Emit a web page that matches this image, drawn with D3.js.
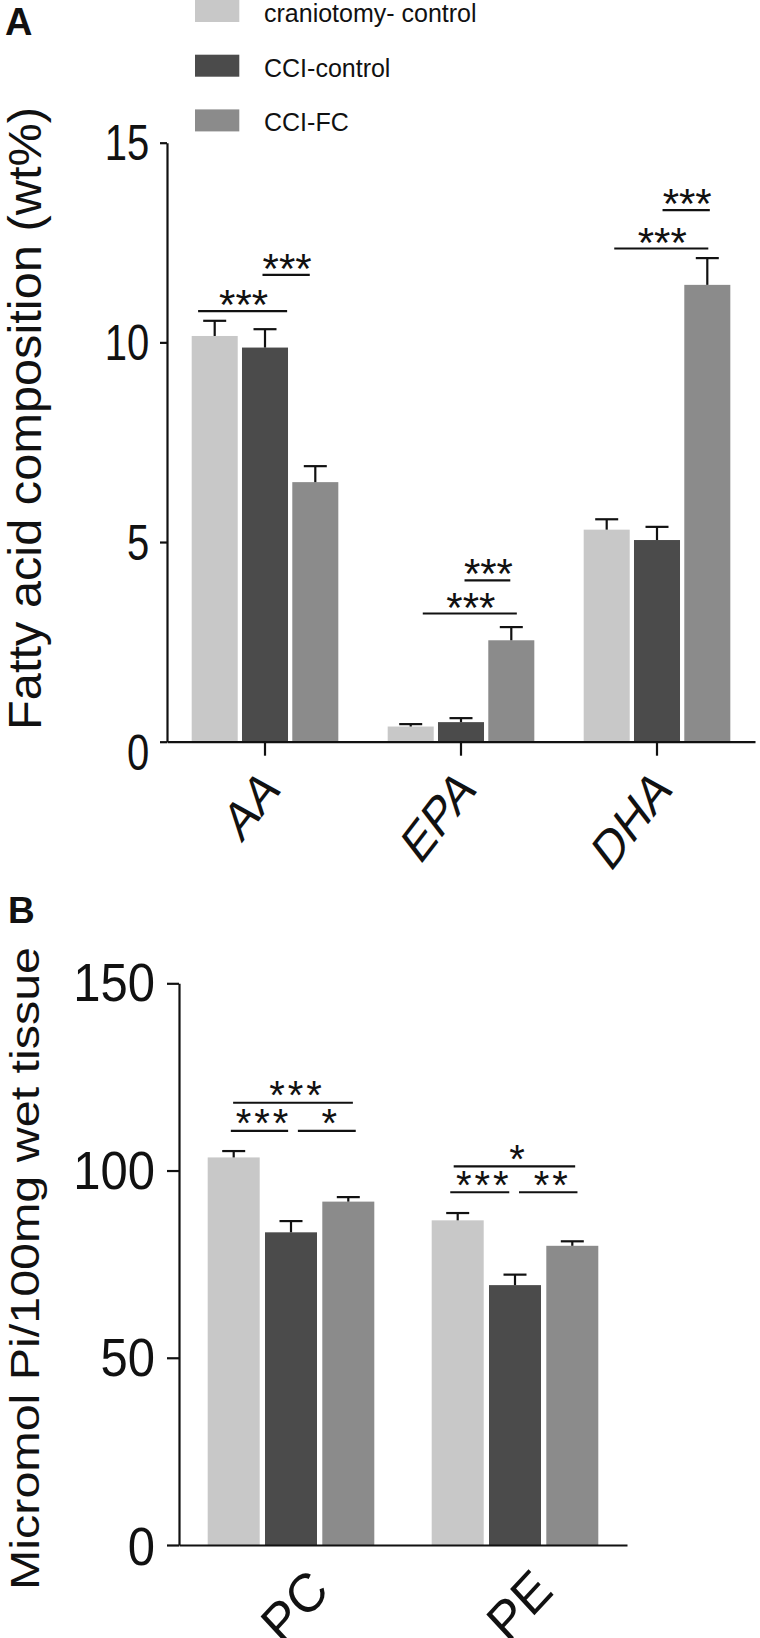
<!DOCTYPE html>
<html><head><meta charset="utf-8">
<script src="https://cdn.jsdelivr.net/npm/d3@7/dist/d3.min.js"></script>
<style>html,body{margin:0;padding:0;background:#fff;} svg{display:block;font-family:"Liberation Sans",Arial,Helvetica,sans-serif;}</style>
</head><body>
<svg id="chart" width="760" height="1638"></svg>
<script>
// ---------- data ----------
const seriesNames  = ["craniotomy- control", "CCI-control", "CCI-FC"];
const seriesColors = ["#c8c8c8", "#4b4b4b", "#8b8b8b"];

// Panel A
const categoriesA     = ["AA", "EPA", "DHA"];
const craniotomyA     = [10.16, 0.38, 5.31];
const craniotomyErrA  = [0.38, 0.06, 0.26];
const cciControlA     = [9.87, 0.49, 5.05];
const cciControlErrA  = [0.46, 0.10, 0.33];
const cciFcA          = [6.50, 2.54, 11.44];
const cciFcErrA       = [0.40, 0.33, 0.67];
const yTicksA         = [0, 5, 10, 15];
const yTickLabelsA    = ["0", "5", "10", "15"];
const yTitleA         = "Fatty acid composition (wt%)";
// significance brackets: group, from / to (in bar slots from group centre), level (data value), label
const sigA = [
  {group: "AA",  from: -1.33, to: 0.44, level: 10.78, label: "***"},
  {group: "AA",  from: -0.05, to: 0.89, level: 11.69, label: "***"},
  {group: "EPA", from: -0.76, to: 1.11, level: 3.21,  label: "***"},
  {group: "EPA", from: 0.07,  to: 0.98, level: 4.04,  label: "***"},
  {group: "DHA", from: -0.85, to: 1.02, level: 12.35, label: "***"},
  {group: "DHA", from: 0.11,  to: 1.05, level: 13.31, label: "***"}
];

// Panel B
const categoriesB     = ["PC", "PE"];
const craniotomyB     = [103.5, 86.7];
const craniotomyErrB  = [1.7, 1.95];
const cciControlB     = [83.5, 69.4];
const cciControlErrB  = [3.0, 2.8];
const cciFcB          = [91.7, 79.9];
const cciFcErrB       = [1.2, 1.2];
const yTicksB         = [0, 50, 100, 150];
const yTickLabelsB    = ["0", "50", "100", "150"];
const yTitleB         = "Micromol Pi/100mg wet tissue";
const sigB = [
  {group: "PC", from: -1.05, to: -0.05, level: 110.6, label: "***"},
  {group: "PC", from: 0.12,  to: 1.13,  level: 110.6, label: "*"},
  {group: "PC", from: -1.01, to: 1.08,  level: 118.1, label: "***"},
  {group: "PE", from: -1.13, to: -0.10, level: 94.2,  label: "***"},
  {group: "PE", from: 0.07,  to: 1.09,  level: 94.2,  label: "**"},
  {group: "PE", from: -1.07, to: 1.05,  level: 101.1, label: "*"}
];

// ---------- drawing ----------
const svg = d3.select("#chart");
const INK = "#111";

function stretchedText(g, x, y, str, o) {
  let tr = `translate(${x},${y}) scale(1,${o.sy || 1})`;
  if (o.rot) tr += ` rotate(${o.rot})`;
  const t = g.append("text")
    .attr("transform", tr)
    .attr("text-anchor", o.anchor || "start")
    .style("font-size", o.fs + "px")
    .style("font-weight", o.weight || "normal")
    .attr("fill", INK)
    .text(str);
  if (o.length) t.attr("textLength", o.length).attr("lengthAdjust", "spacingAndGlyphs");
  if (o.ls) t.style("letter-spacing", o.ls + "px");
  return t;
}

function drawPanel(p) {
  const g = svg.append("g");
  const y = d3.scaleLinear().domain([0, p.yMax]).range([p.yBottom, p.yTop]);
  const xg = d3.scaleBand().domain(p.categories).range([p.axisX, p.axisX + p.axisW]);
  const xi = d3.scaleBand().domain(d3.range(seriesNames.length))
    .range([-p.innerHalf, p.innerHalf]).paddingInner(p.pad).paddingOuter(p.pad / 2);
  const centre = c => xg(c) + xg.bandwidth() / 2;

  const rows = [];
  p.categories.forEach((c, ci) => {
    p.values.forEach((vals, si) => {
      rows.push({c, si, v: vals[ci], e: p.errors[si][ci]});
    });
  });

  // bars
  g.selectAll("rect.bar").data(rows).join("rect")
    .attr("class", "bar")
    .attr("x", d => centre(d.c) + xi(d.si))
    .attr("y", d => y(d.v))
    .attr("width", xi.bandwidth())
    .attr("height", d => y(0) - y(d.v))
    .attr("fill", d => seriesColors[d.si]);

  // error bars
  const eb = g.selectAll("g.err").data(rows).join("g").attr("class", "err")
    .attr("stroke", INK).attr("stroke-width", 2.2);
  eb.append("line")
    .attr("x1", d => centre(d.c) + xi(d.si) + xi.bandwidth() / 2)
    .attr("x2", d => centre(d.c) + xi(d.si) + xi.bandwidth() / 2)
    .attr("y1", d => y(d.v)).attr("y2", d => y(d.v + d.e));
  eb.append("line")
    .attr("x1", d => centre(d.c) + xi(d.si) + xi.bandwidth() / 2 - p.cap / 2)
    .attr("x2", d => centre(d.c) + xi(d.si) + xi.bandwidth() / 2 + p.cap / 2)
    .attr("y1", d => y(d.v + d.e)).attr("y2", d => y(d.v + d.e));

  // y axis
  const ya = g.append("g").attr("transform", `translate(${p.axisX},0)`)
    .call(d3.axisLeft(y).tickValues(p.ticks).tickSize(p.yTickLen).tickSizeOuter(0).tickFormat(""));
  ya.selectAll("path,line").attr("stroke", INK).attr("stroke-width", 2.2);

  // x axis
  const xa = g.append("g").attr("transform", `translate(0,${y(0)})`)
    .call(d3.axisBottom(xg).tickSize(p.xTickLen).tickSizeOuter(0).tickFormat(""));
  xa.selectAll("path,line").attr("stroke", INK).attr("stroke-width", 2.2);
  if (!p.xTickLen) xa.selectAll(".tick line").remove();

  // y tick labels
  p.ticks.forEach((t, i) => {
    const extra = (t === 0) ? p.zeroShift : 0;
    stretchedText(g, p.axisX - p.labelGap, y(t) + p.labelBase + extra, p.tickLabels[i],
      {fs: p.tickFs, sy: p.tickSy, anchor: "end"});
  });

  // x category labels
  p.categories.forEach(c => {
    stretchedText(g, centre(c) + p.catDx, p.catY, c,
      {fs: p.catFs, sy: p.catSy, anchor: "end", rot: -45});
  });

  // y title
  stretchedText(g, p.titleX, p.titleY0, p.title,
    {fs: p.titleFs, anchor: "start", rot: -90, length: p.titleLen});

  // significance brackets
  const step = xi.step();
  p.sig.forEach(s => {
    const x1 = centre(s.group) + s.from * step;
    const x2 = centre(s.group) + s.to * step;
    const ly = y(s.level);
    g.append("line").attr("x1", x1).attr("x2", x2).attr("y1", ly).attr("y2", ly)
      .attr("stroke", INK).attr("stroke-width", 2.2);
    stretchedText(g, (x1 + x2) / 2 + p.starDx, ly + p.starBase, s.label,
      {fs: p.starFs, anchor: "middle", ls: p.starLs});
  });

  // panel letter
  stretchedText(g, p.letterX, p.letterY, p.letter, {fs: p.letterFs, weight: "bold"});
}

drawPanel({
  categories: categoriesA,
  values: [craniotomyA, cciControlA, cciFcA],
  errors: [craniotomyErrA, cciControlErrA, cciFcErrA],
  ticks: yTicksA, tickLabels: yTickLabelsA, yMax: 15,
  yBottom: 741.7, yTop: 142.7, axisX: 167, axisW: 588,
  innerHalf: 75.45, pad: 0.085, cap: 23,
  yTickLen: 7, xTickLen: 14,
  labelGap: 17.7, labelBase: 17.5, zeroShift: 10.5, tickFs: 40, tickSy: 1.24,
  catDx: 16, catY: 792, catFs: 42, catSy: 1.3,
  title: yTitleA, titleX: 41, titleY0: 730, titleFs: 47, titleLen: 623,
  sig: sigA, starFs: 42, starBase: 8, starDx: 1, starLs: 0,
  letter: "A", letterX: 5, letterY: 35, letterFs: 38
});

drawPanel({
  categories: categoriesB,
  values: [craniotomyB, cciControlB, cciFcB],
  errors: [craniotomyErrB, cciControlErrB, cciFcErrB],
  ticks: yTicksB, tickLabels: yTickLabelsB, yMax: 150,
  yBottom: 1545, yTop: 983.3, axisX: 179, axisW: 448,
  innerHalf: 85.95, pad: 0.0925, cap: 23,
  yTickLen: 12, xTickLen: 0,
  labelGap: 24, labelBase: 18, zeroShift: 2, tickFs: 49, tickSy: 1.08,
  catDx: 40, catY: 1593, catFs: 50, catSy: 1.08,
  title: yTitleB, titleX: 38.5, titleY0: 1590, titleFs: 40, titleLen: 643,
  sig: sigB, starFs: 40, starBase: 6.5, starDx: 4, starLs: 3,
  letter: "B", letterX: 8, letterY: 923, letterFs: 37
});

// legend
const legend = svg.append("g");
const legendY = d3.scalePoint().domain(seriesNames).range([22, 131.4]);
seriesNames.forEach((n, i) => {
  legend.append("rect").attr("x", 195).attr("y", legendY(n) - 22)
    .attr("width", 44.3).attr("height", 22).attr("fill", seriesColors[i]);
  stretchedText(legend, 264, legendY(n), n, {fs: 25});
});
</script>
</body></html>
